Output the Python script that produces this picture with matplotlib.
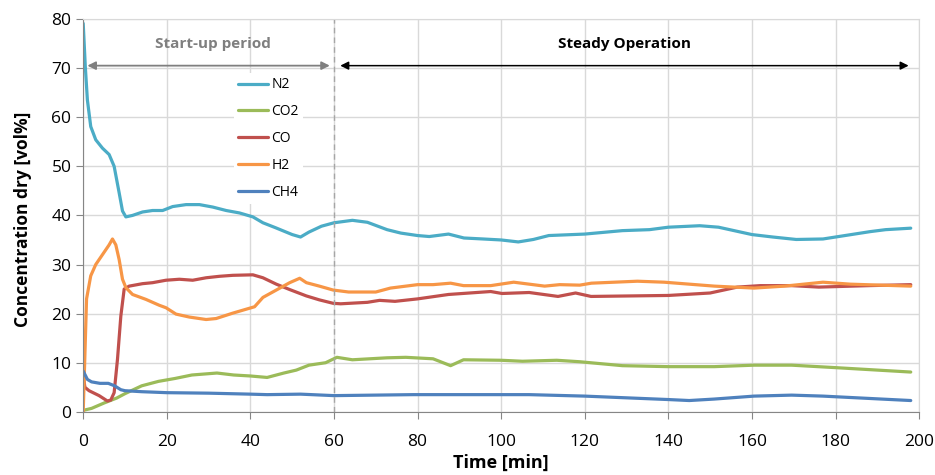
import matplotlib.pyplot as plt

plt.rcParams['font.family'] = ['Open Sans', 'DejaVu Sans']

# N2
t_n2 = [0, 0.5, 1, 1.8, 3, 4.6, 6.2, 7.4, 8.6, 9.4, 10.2, 11.8, 14.2, 16.6, 19, 21.4, 24.6,
        27.8, 31, 34.2, 37.4, 40.6, 43, 46, 50, 52, 54, 57, 60, 64.4, 68, 72.7, 76, 80, 82.8,
        87.4, 91.1, 95.7, 100, 104.1, 107.7, 111.4, 120, 129, 135.5, 140, 147.5, 152, 160,
        165, 170.6, 177, 180, 188.3, 192, 198]
n2 = [79.1, 70.3, 63.5, 58.1, 55.4, 53.7, 52.4, 50, 44.6, 40.9, 39.7, 40, 40.7, 41, 41, 41.8,
      42.2, 42.2, 41.7, 41, 40.5, 39.7, 38.5, 37.5, 36.1, 35.6, 36.6, 37.8, 38.5, 39.0, 38.6,
      37.1, 36.4, 35.9, 35.7, 36.2, 35.4, 35.2, 35.0, 34.6, 35.1, 35.9, 36.2, 36.9, 37.1,
      37.6, 37.9, 37.6, 36.1, 35.6, 35.1, 35.2, 35.6, 36.7, 37.1, 37.4]

# CO2
t_co2 = [0, 2, 5, 8, 10, 12, 14, 18, 22, 26, 32, 36, 40, 44, 48, 51, 54, 58, 60.7, 64.4,
         72.7, 77.2, 83.7, 87.9, 91, 100, 105.1, 113.3, 118.8, 129, 140, 151, 160.5, 169.5,
         180, 198]
co2 = [0.3, 0.7, 1.8, 2.8, 3.7, 4.5, 5.3, 6.2, 6.8, 7.5, 7.9, 7.5, 7.3, 7.0, 7.9, 8.5, 9.5,
       10.0, 11.1, 10.6, 11.0, 11.1, 10.8, 9.4, 10.6, 10.5, 10.3, 10.5, 10.2, 9.4, 9.2, 9.2,
       9.5, 9.5, 9.0, 8.1]

# CO
t_co = [0, 0.4, 1.4, 3.8, 5.8, 6.6, 7.4, 8.2, 9, 9.8, 11, 14.2, 16.6, 19.8, 23, 26.2, 29.4,
        32.6, 35.8, 40.6, 43, 46.2, 49.4, 53.4, 56.5, 59.8, 61.6, 68, 70.9, 74.6, 80, 87.4,
        97.5, 100.2, 106.7, 113.6, 117.8, 121.5, 140, 150, 156.5, 162, 169.5, 176, 188, 198]
co = [7.5, 5, 4.3, 3.3, 2.2, 2.4, 3.9, 10.7, 19.5, 25, 25.6, 26.1, 26.3, 26.8, 27, 26.8, 27.3,
      27.6, 27.8, 27.9, 27.3, 26, 24.9, 23.6, 22.8, 22.1, 22.0, 22.3, 22.7, 22.5, 23.0, 23.9,
      24.5, 24.1, 24.3, 23.5, 24.2, 23.5, 23.7, 24.2, 25.4, 25.7, 25.7, 25.4, 25.7, 25.9]

# H2
t_h2 = [0, 0.8, 1.8, 3, 4.6, 6.2, 7, 7.8, 8.6, 9.4, 10.2, 11.8, 15, 18.2, 19.8, 22.2, 25.4,
        29.4, 31.8, 35.8, 39.8, 41, 43, 46.2, 49.4, 51.8, 53.4, 56.5, 59.8, 63.5, 70, 73.5,
        80, 83.7, 87.9, 91, 97.5, 103, 110.4, 114, 118.8, 121.6, 132.6, 139, 151, 160.5,
        167.8, 177, 183.5, 198]
h2 = [0, 23, 27.7, 30, 32, 34, 35.2, 34, 31, 27, 25.3, 23.9, 22.9, 21.7, 21.2, 19.9, 19.3,
      18.8, 19.0, 20.1, 21.1, 21.4, 23.3, 24.8, 26.3, 27.2, 26.3, 25.6, 24.8, 24.4, 24.4,
      25.2, 25.9, 25.9, 26.2, 25.7, 25.7, 26.4, 25.6, 25.9, 25.8, 26.2, 26.6, 26.4, 25.6,
      25.2, 25.6, 26.4, 26.0, 25.6]

# CH4
t_ch4 = [0, 1, 2, 4, 6, 7.5, 9, 10, 14, 20, 30, 40, 44, 52, 60, 79, 106.7, 120, 140, 145,
         151, 160.5, 169.5, 177, 198]
ch4 = [8.3, 6.6, 6.1, 5.8, 5.8, 5.3, 4.5, 4.3, 4.1, 3.9, 3.8, 3.6, 3.5, 3.6, 3.3, 3.5, 3.5,
       3.2, 2.5, 2.3, 2.6, 3.2, 3.4, 3.2, 2.3]

series = [
    ('N2', t_n2, n2, '#4bacc6'),
    ('CO2', t_co2, co2, '#9bbb59'),
    ('CO', t_co, co, '#c0504d'),
    ('H2', t_h2, h2, '#f79646'),
    ('CH4', t_ch4, ch4, '#4f81bd'),
]

fig = plt.figure(figsize=(9.35, 4.75), dpi=100)
ax = fig.add_axes([0.089, 0.133, 0.894, 0.827])

for name, t, y, c in series:
    ax.plot(t, y, color=c, lw=2.3, label=name, solid_capstyle='round')

ax.set_xlim(0, 200)
ax.set_ylim(0, 80)
ax.set_xticks(range(0, 201, 20))
ax.set_yticks(range(0, 81, 10))
ax.grid(True, color='#d9d9d9', lw=1)
ax.set_axisbelow(True)
for s in ['top', 'right']:
    ax.spines[s].set_color('#d9d9d9')
for s in ['left', 'bottom']:
    ax.spines[s].set_color('#868686')
ax.tick_params(axis='both', colors='#868686', labelcolor='black', labelsize=12.5, length=5)
ax.tick_params(axis='x', pad=11)

ax.set_xlabel('Time [min]', fontsize=13, fontweight='bold', labelpad=3)
ax.set_ylabel('Concentration dry [vol%]', fontsize=12.5, fontweight='bold')
ax.yaxis.set_label_coords(-0.061, 0.49)

# period markers
ax.axvline(60, color='#a6a6a6', lw=1, ls=(0, (4, 3)))
ax.annotate('', xy=(59, 70.5), xytext=(1, 70.5),
            arrowprops=dict(arrowstyle='<|-|>', color='#7f7f7f', lw=1.3,
                            mutation_scale=12, shrinkA=0, shrinkB=0))
ax.annotate('', xy=(197.5, 70.5), xytext=(61.5, 70.5),
            arrowprops=dict(arrowstyle='<|-|>', color='black', lw=1.1,
                            mutation_scale=12, shrinkA=0, shrinkB=0))
ax.text(31, 75, 'Start-up period', ha='center', va='center', fontsize=11,
        fontweight='bold', color='#7f7f7f')
ax.text(129.5, 75, 'Steady Operation', ha='center', va='center', fontsize=11,
        fontweight='bold', color='black')

leg = ax.legend(loc='upper left', bbox_to_anchor=(0.18, 0.862), frameon=True,
                fontsize=10, handlelength=2.2, handletextpad=0.2,
                labelspacing=0.85, borderaxespad=0, borderpad=0.3)
leg.get_frame().set_facecolor('white')
leg.get_frame().set_edgecolor('none')
leg.get_frame().set_alpha(1)

fig.savefig('out.png', dpi=100)
